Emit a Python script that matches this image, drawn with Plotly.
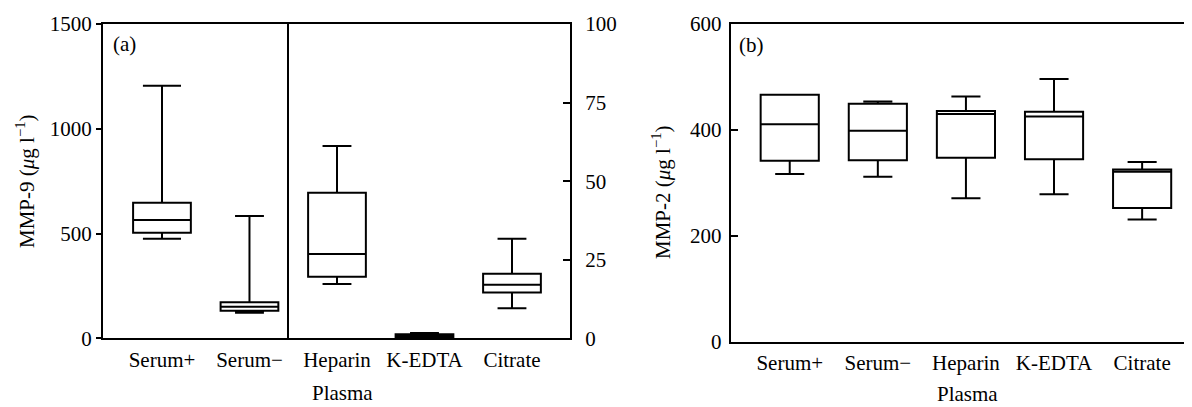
import plotly.graph_objects as go

categories = ["Serum+", "Serum−", "Heparin", "K-EDTA", "Citrate"]

# Panel (a) MMP-9: serum on left axis (0-1500), plasma on right axis (0-100)
a_lower = [475, 122, 17.3, 0.1, 9.6]
a_q1 = [504, 132, 19.6, 0.3, 14.6]
a_median = [565, 151, 26.8, 0.8, 17.0]
a_q3 = [647, 172, 46.3, 1.3, 20.5]
a_upper = [1205, 584, 61.2, 1.7, 31.7]
a_axis = ["y", "y", "y2", "y2", "y2"]
a_whisker = [0.66, 0.5, 0.5, 0.5, 0.5]

# Panel (b) MMP-2
b_lower = [317, 312, 271, 279, 231]
b_q1 = [342, 343, 347.5, 345, 253]
b_median = [411, 398.5, 430, 425.6, 321]
b_q3 = [466.5, 449.5, 435.7, 434.4, 325.6]
b_upper = [466.5, 454, 463, 496, 339.4]

left_ticks = [0, 500, 1000, 1500]
right_ticks = [0, 25, 50, 75, 100]
b_ticks = [0, 200, 400, 600]

# page offset (browser body margin)
OX, OY = 8, 8
W, H = 1192 - OX, 407 - OY
FONT = "Liberation Serif, Times New Roman, serif"
FS = 21
line = dict(color="black", width=2)


def px(X):
    return (X - OX) / W


def py(Y):
    return 1 - (Y - OY) / H


fig = go.Figure()
for i, c in enumerate(categories):
    fig.add_trace(go.Box(
        x=[c], q1=[a_q1[i]], median=[a_median[i]], q3=[a_q3[i]],
        lowerfence=[a_lower[i]], upperfence=[a_upper[i]],
        xaxis="x", yaxis=a_axis[i], width=0.66, whiskerwidth=a_whisker[i],
        line=line, fillcolor="rgba(0,0,0,0)", boxpoints=False,
        showlegend=False, hoverinfo="skip"))
for i, c in enumerate(categories):
    fig.add_trace(go.Box(
        x=[c], q1=[b_q1[i]], median=[b_median[i]], q3=[b_q3[i]],
        lowerfence=[b_lower[i]], upperfence=[b_upper[i]],
        xaxis="x2", yaxis="y3", width=0.66, whiskerwidth=0.5,
        line=line, fillcolor="rgba(0,0,0,0)", boxpoints=False,
        showlegend=False, hoverinfo="skip"))

ax_font = dict(family=FONT, size=FS, color="black")
left_dom = [px(103), px(570)]
right_dom = [px(730.7), 1.0]
ydom_a = [py(338.3), py(24)]
ydom_b = [py(342), py(24)]

common = dict(showline=True, linecolor="black", linewidth=2, showgrid=False,
              zeroline=False, tickfont=ax_font, automargin=False)

fig.update_layout(
    width=W, height=H, margin=dict(l=0, r=0, t=0, b=0, autoexpand=False),
    paper_bgcolor="white", plot_bgcolor="white",
    font=ax_font,
    xaxis=dict(domain=left_dom, anchor="y", type="category",
               categoryorder="array", categoryarray=categories,
               range=[-0.674, 4.663], mirror=True, ticks="",
               ticklabelstandoff=1, **common),
    yaxis=dict(domain=ydom_a, anchor="x", range=[0, 1500], tickvals=left_ticks,
               ticks="outside", ticklen=5, tickwidth=2, tickcolor="black",
               ticklabelstandoff=0, **common),
    yaxis2=dict(overlaying="y", side="right", anchor="x", range=[0, 100],
                tickvals=right_ticks, ticks="inside", ticklen=7, tickwidth=2,
                tickcolor="black", ticklabelstandoff=9, **common),
    xaxis2=dict(domain=right_dom, anchor="y3", type="category",
                categoryorder="array", categoryarray=categories,
                range=[-0.67, 4.566], mirror=True, ticks="",
                ticklabelstandoff=1, **common),
    yaxis3=dict(domain=ydom_b, anchor="x2", range=[0, 600], tickvals=b_ticks,
                ticks="inside", ticklen=7, tickwidth=2, tickcolor="black",
                ticklabelstandoff=3, **common),
)

# divider between serum and plasma in panel (a)
fig.add_shape(type="line", xref="paper", yref="paper",
              x0=px(288), x1=px(288), y0=ydom_a[0], y1=ydom_a[1],
              line=dict(color="black", width=2))


def ann(text, x, y, angle=0, size=FS):
    fig.add_annotation(text=text, xref="paper", yref="paper", x=px(x),
                       y=py(y), showarrow=False, textangle=angle,
                       xanchor="center", yanchor="middle",
                       font=dict(family=FONT, size=size, color="black"))


ann("(a)", 124, 44)
ann("(b)", 751, 45)
ann("MMP-9 (<i>μ</i>g l<sup>−1</sup>)", 26, 181, angle=-90)
ann("MMP-2 (<i>μ</i>g l<sup>−1</sup>)", 661, 192, angle=-90)
ann("Plasma", 342, 393)
ann("Plasma", 967, 394)

fig.write_html("out.html")
